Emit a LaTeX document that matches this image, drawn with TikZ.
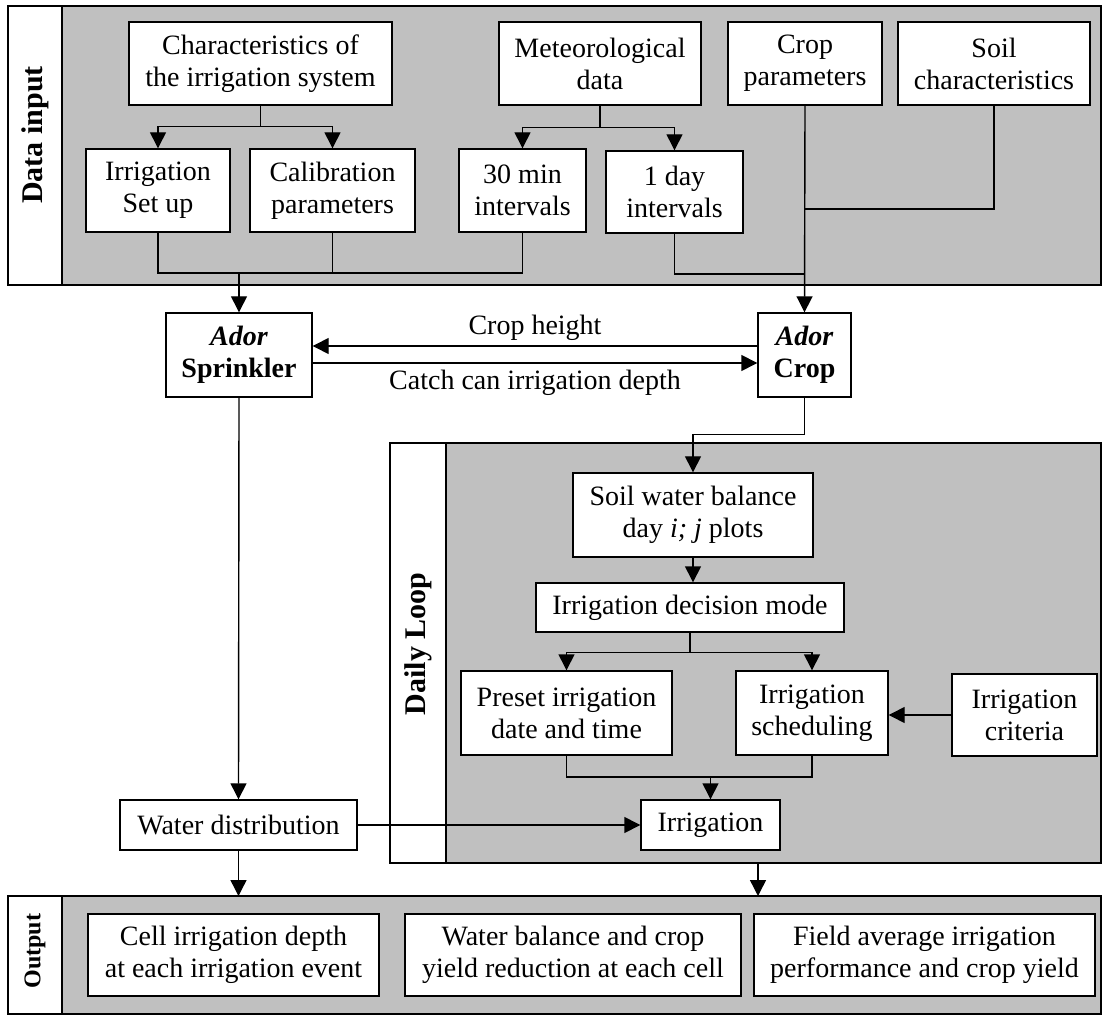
\documentclass[tikz,border=0pt]{standalone}
\usepackage{fontspec}
\setmainfont{Liberation Serif}
\usetikzlibrary{arrows.meta}
\definecolor{panelgray}{RGB}{192,192,192}

\begin{document}
\begin{tikzpicture}[x=0.5pt, y=-0.5pt, line width=0.7pt,
    box/.style={draw, fill=white, align=center, inner sep=0pt, minimum height=41.5pt,
        font=\fontsize{14pt}{16pt}\selectfont},
    arr/.style={-{Triangle[length=8pt,width=8pt]}},
    lane/.style={draw, fill=panelgray},
    tag/.style={rotate=90, font=\bfseries\fontsize{15pt}{18pt}\selectfont},
    lbl/.style={font=\fontsize{14pt}{16pt}\selectfont, inner sep=2.5pt}]
        \useasboundingbox (0,0) rectangle (1102,1015);
        % frames
        \draw[lane] (62,6) rectangle (1101,285);
        \draw (8,6) rectangle (62,285);
        \draw[lane] (446,443) rectangle (1101,863);
        \draw (390,443) rectangle (446,863);
        \draw[lane] (62,896) rectangle (1101,1014);
        \draw (8,896) rectangle (62,1014);
        \node[tag] (tin) at (35,135) {Data input};
        \node[tag] (tloop) at (418,644) {Daily Loop};
        \node[tag, font=\bfseries\fontsize{12pt}{14pt}\selectfont] (tout) at (35,951) {Output};
        % data input
        \node[box, minimum width=131.5pt] (char) at (260.5,63.5) {Characteristics of\\the irrigation system};
        \node[box, minimum width=101pt] (met) at (600,63.5) {Meteorological\\data};
        \node[box, minimum width=77pt] (cpar) at (805,63.5) {Crop\\parameters};
        \node[box, minimum width=96pt] (soil) at (994,63.5) {Soil\\characteristics};
        \node[box, minimum width=72pt] (setup) at (158,190.5) {Irrigation\\Set up};
        \node[box, minimum width=82.5pt] (calib) at (332.5,190.5) {Calibration\\parameters};
        \node[box, minimum width=63.5pt] (min30) at (522.5,190.5) {30 min\\intervals};
        \node[box, minimum width=68.5pt, minimum height=41pt] (day1) at (674.5,192) {1 day\\intervals};
        % models
        \node[box, minimum width=73pt, minimum height=42pt] (spr) at (239,355) {\textbf{\textit{Ador}}\\\textbf{Sprinkler}};
        \node[box, minimum width=46.5pt, minimum height=42pt] (crop) at (804.5,355) {\textbf{\textit{Ador}}\\\textbf{Crop}};
        % daily loop
        \node[box, minimum width=120pt, minimum height=42pt] (swb) at (693,515) {Soil water balance\\day \textit{i; j} plots};
        \node[box, minimum width=154pt, minimum height=24.5pt] (idm) at (690,607.5) {Irrigation decision mode};
        \node[box, minimum width=105.5pt, minimum height=42pt] (preset) at (566.5,713) {Preset irrigation\\date and time};
        \node[box, minimum width=76pt, minimum height=42pt] (sched) at (812,713) {Irrigation\\scheduling};
        \node[box, minimum width=72.5pt, minimum height=41pt] (crit) at (1024.5,715) {Irrigation\\criteria};
        \node[box, minimum width=69.5pt, minimum height=25pt] (irr) at (710.5,825) {Irrigation};
        \node[box, minimum width=118.5pt, minimum height=25pt] (wd) at (238.5,825) {Water distribution};
        % output
        \node[box, minimum width=145.5pt, minimum height=41pt] (out1) at (233.5,955) {Cell irrigation depth\\at each irrigation event};
        \node[box, minimum width=168pt, minimum height=41pt] (out2) at (573,955) {Water balance and crop\\yield reduction at each cell};
        \node[box, minimum width=170.5pt, minimum height=41pt] (out3) at (924.5,955) {Field average irrigation\\performance and crop yield};
        \coordinate (loopout) at (758,863);
        \coordinate (outtop) at (758,896);
        % connectors
        \draw[arr] (char.south) -- ++(0,21) -| (setup.north);
        \draw[arr] (char.south) -- ++(0,21) -| (calib.north);
        \draw[arr] (met.south) -- ++(0,22) -| (min30.north);
        \draw[arr] (met.south) -- ++(0,22) -| (day1.north);
        \draw (setup.south) |- (min30.south |- 0,273) -- (min30.south);
        \draw (calib.south) -- (calib.south |- 0,273);
        \draw[arr] (spr.north |- 0,273) -- (spr.north);
        \draw[arr] (cpar.south) -- (crop.north);
        \draw (soil.south) |- (cpar.south |- 0,209);
        \draw (day1.south) |- (cpar.south |- 0,274);
        \draw[arr] (crop.west |- 0,346) -- (spr.east |- 0,346) node[lbl, midway, above] {Crop height};
        \draw[arr] (spr.east |- 0,363) -- (crop.west |- 0,363) node[lbl, midway, below, inner sep=3pt] {Catch can irrigation depth};
        \draw[arr] (spr.south) -- (wd.north);
        \draw[arr] (crop.south) -- ++(0,37) -| (swb.north);
        \draw[arr] (swb.south) -- (swb.south |- idm.north);
        \draw[arr] (idm.south) -- ++(0,20) -| (preset.north);
        \draw[arr] (idm.south) -- ++(0,20) -| (sched.north);
        \draw[arr] (crit.west) -- (sched.east |- crit.west);
        \draw (preset.south) |- (sched.south |- 0,777) -- (sched.south);
        \draw[arr] (irr.north |- 0,777) -- (irr.north);
        \draw[arr] (wd.east) -- (irr.west);
        \draw[arr] (wd.south) -- (wd.south |- 0,896);
        \draw[arr] (loopout) -- (outtop);
    \end{tikzpicture}
\end{document}
